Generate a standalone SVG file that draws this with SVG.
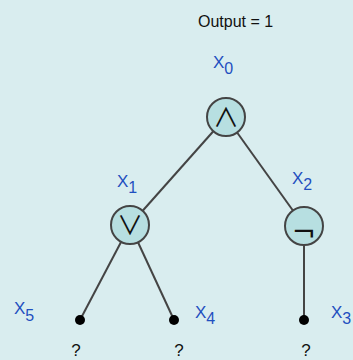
<svg xmlns="http://www.w3.org/2000/svg" width="353" height="360" viewBox="0 0 353 360">
<style>
.bg{fill:#d9edef}
.edge{stroke:#444;stroke-width:2;fill:none}
.gate{fill:#b7dfe1;stroke:#444;stroke-width:2}
.leaf{fill:#000}
.sym{font-family:"Noto Sans CJK JP","DejaVu Sans",sans-serif;font-size:26px;fill:#111;text-anchor:middle}
.neg{font-family:"DejaVu Sans",sans-serif;font-size:29px;fill:#111;text-anchor:middle}
.lbl{font-family:"Liberation Sans",sans-serif;font-size:17px;fill:#1f4fc0}
.sub{font-size:16px}
.txt{font-family:"Liberation Sans",sans-serif;font-size:16px;fill:#111}
.q{font-family:"Liberation Sans",sans-serif;font-size:17px;fill:#111;text-anchor:middle}
</style>
<rect class="bg" width="353" height="360"/>
<text class="txt" x="198" y="27">Output = 1</text>
<g id="connectors">
<line class="edge" x1="226" y1="117" x2="130" y2="225"/>
<line class="edge" x1="226" y1="117" x2="304" y2="226"/>
<line class="edge" x1="130" y1="225" x2="80" y2="320"/>
<line class="edge" x1="130" y1="225" x2="174" y2="320"/>
<line class="edge" x1="304" y1="226" x2="304" y2="320"/>
</g>
<g id="x0">
<circle class="gate" cx="226" cy="117" r="19"/>
<text class="sym" x="226" y="127">∧</text>
<text class="lbl" x="213" y="68">X<tspan class="sub" dy="6">0</tspan></text>
</g>
<g id="x1">
<circle class="gate" cx="130" cy="225" r="19"/>
<text class="sym" x="130" y="235">∨</text>
<text class="lbl" x="117" y="187">X<tspan class="sub" dy="6">1</tspan></text>
</g>
<g id="x2">
<circle class="gate" cx="304" cy="226" r="19"/>
<text class="neg" x="304" y="242">¬</text>
<text class="lbl" x="292" y="184">X<tspan class="sub" dy="6">2</tspan></text>
</g>
<g id="x5">
<circle class="leaf" cx="80" cy="320" r="5"/>
<text class="lbl" x="14" y="314">X<tspan class="sub" dy="7">5</tspan></text>
<text class="q" x="76" y="356">?</text>
</g>
<g id="x4">
<circle class="leaf" cx="174" cy="320" r="5"/>
<text class="lbl" x="195" y="318">X<tspan class="sub" dy="6">4</tspan></text>
<text class="q" x="179" y="356">?</text>
</g>
<g id="x3">
<circle class="leaf" cx="304" cy="320" r="5"/>
<text class="lbl" x="331" y="318">X<tspan class="sub" dy="6">3</tspan></text>
<text class="q" x="306" y="356">?</text>
</g>
</svg>
